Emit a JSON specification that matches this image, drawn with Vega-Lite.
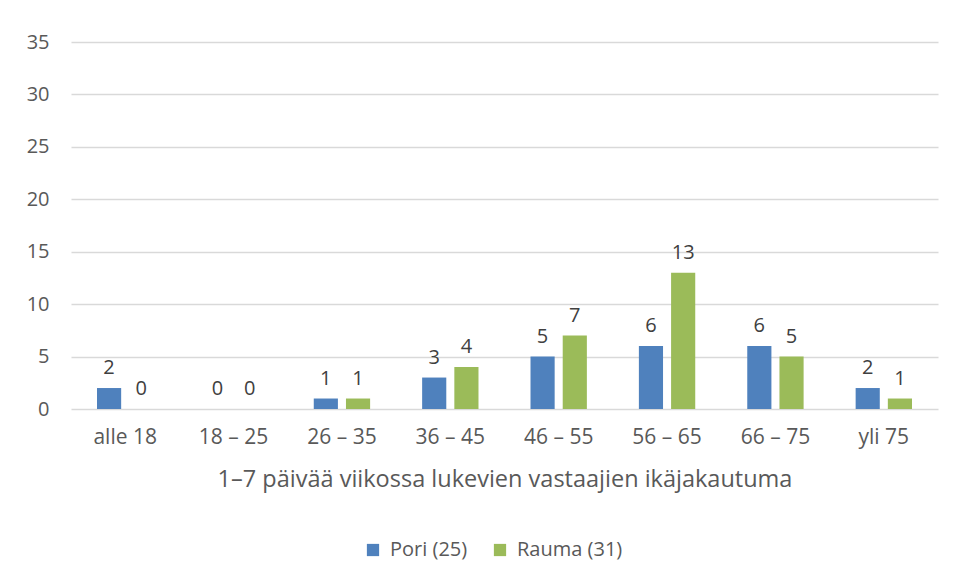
{
  "$schema": "https://vega.github.io/schema/vega-lite/v6.json",
  "width": 867,
  "height": 367,
  "autosize": {"type": "none"},
  "padding": {"left": 71, "top": 42, "right": 16, "bottom": 170},
  "background": "white",
  "data": {
    "values": [
      {"ika": "alle 18", "sarja": "Pori (25)", "n": 2},
      {"ika": "alle 18", "sarja": "Rauma (31)", "n": 0},
      {"ika": "18 – 25", "sarja": "Pori (25)", "n": 0},
      {"ika": "18 – 25", "sarja": "Rauma (31)", "n": 0},
      {"ika": "26 – 35", "sarja": "Pori (25)", "n": 1},
      {"ika": "26 – 35", "sarja": "Rauma (31)", "n": 1},
      {"ika": "36 – 45", "sarja": "Pori (25)", "n": 3},
      {"ika": "36 – 45", "sarja": "Rauma (31)", "n": 4},
      {"ika": "46 – 55", "sarja": "Pori (25)", "n": 5},
      {"ika": "46 – 55", "sarja": "Rauma (31)", "n": 7},
      {"ika": "56 – 65", "sarja": "Pori (25)", "n": 6},
      {"ika": "56 – 65", "sarja": "Rauma (31)", "n": 13},
      {"ika": "66 – 75", "sarja": "Pori (25)", "n": 6},
      {"ika": "66 – 75", "sarja": "Rauma (31)", "n": 5},
      {"ika": "yli 75", "sarja": "Pori (25)", "n": 2},
      {"ika": "yli 75", "sarja": "Rauma (31)", "n": 1}
    ]
  },
  "encoding": {
    "x": {
      "field": "ika",
      "type": "nominal",
      "sort": null,
      "scale": {"paddingInner": 0.48, "paddingOuter": 0.24},
      "axis": {
        "title": "1–7 päivää viikossa lukevien vastaajien ikäjakautuma",
        "labelAngle": 0,
        "ticks": false,
        "domain": false,
        "labelPadding": 17,
        "labelFontSize": 21,
        "titlePadding": 20
      }
    },
    "xOffset": {
      "field": "sarja",
      "type": "nominal",
      "scale": {"paddingInner": 0.25, "paddingOuter": 0}
    },
    "y": {
      "field": "n",
      "type": "quantitative",
      "scale": {"domain": [0, 35]},
      "axis": {
        "title": null,
        "values": [0, 5, 10, 15, 20, 25, 30, 35],
        "ticks": false,
        "domain": false,
        "labelPadding": 22,
        "labelFontSize": 20,
        "gridColor": "#D9D9D9",
        "gridWidth": 1.3
      }
    }
  },
  "layer": [
    {
      "mark": {"type": "bar"},
      "encoding": {
        "color": {
          "field": "sarja",
          "type": "nominal",
          "scale": {"domain": ["Pori (25)", "Rauma (31)"], "range": ["#4F81BD", "#9BBB59"]},
          "legend": {
            "title": null,
            "orient": "none",
            "direction": "horizontal",
            "legendX": 292,
            "legendY": 498,
            "symbolType": "square",
            "symbolSize": 150,
            "symbolStrokeWidth": 0,
            "symbolOpacity": 1,
            "labelFontSize": 20,
            "labelColor": "#595959",
            "labelOffset": 7,
            "columnPadding": 22
          }
        }
      }
    },
    {
      "mark": {"type": "text", "baseline": "bottom", "dy": -10, "fontSize": 20, "color": "#404040"},
      "encoding": {
        "text": {"field": "n", "type": "quantitative"}
      }
    }
  ],
  "config": {
    "font": "Open Sans",
    "view": {"stroke": null},
    "axis": {
      "labelFont": "Open Sans",
      "labelFontSize": 19,
      "labelColor": "#595959",
      "titleFont": "Open Sans",
      "titleFontSize": 23.5,
      "titleFontWeight": "normal",
      "titleColor": "#595959"
    },
    "axisX": {"grid": false},
    "legend": {"labelFont": "Open Sans"}
  }
}
